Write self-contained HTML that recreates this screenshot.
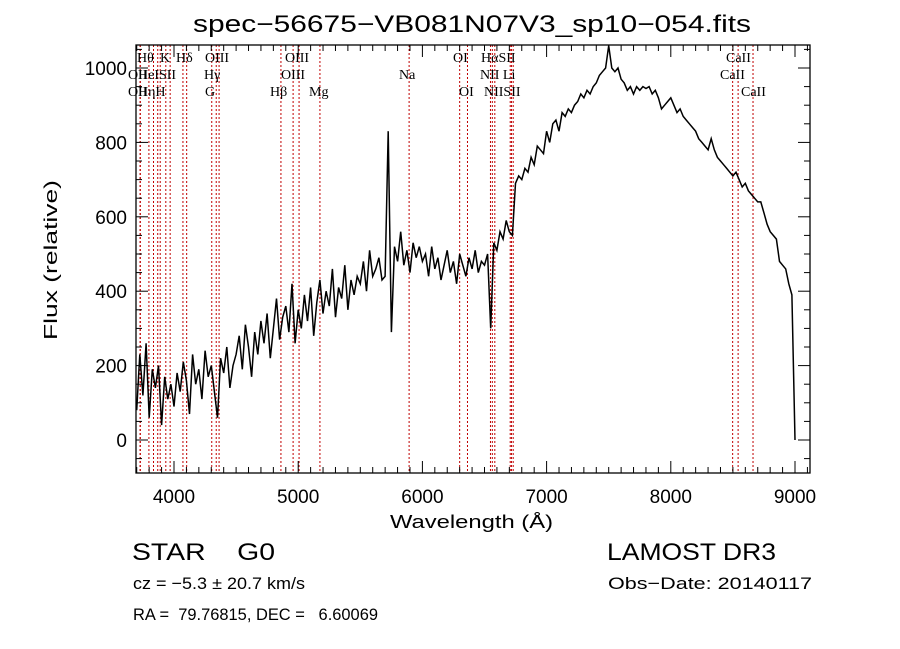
<!DOCTYPE html>
<html><head><meta charset="utf-8"><style>
html,body{margin:0;padding:0;background:#fff;width:900px;height:649px;overflow:hidden}
svg{display:block}
text{font-family:"Liberation Sans",sans-serif;fill:#000;white-space:pre}
.ser{font-family:"Liberation Serif",serif}
</style></head><body>
<svg id="chart" width="900" height="649" viewBox="0 0 900 649" xmlns="http://www.w3.org/2000/svg" xml:space="preserve">
<text x="193" y="32" font-size="24" textLength="558" lengthAdjust="spacingAndGlyphs">spec−56675−VB081N07V3_sp10−054.fits</text>
<text x="390" y="528" font-size="18" textLength="163" lengthAdjust="spacingAndGlyphs">Wavelength (Å)</text>
<text transform="translate(57,340) rotate(-90)" font-size="18" textLength="160" lengthAdjust="spacingAndGlyphs">Flux (relative)</text>
<text x="132" y="560" font-size="24" textLength="143" lengthAdjust="spacingAndGlyphs">STAR    G0</text>
<text x="607" y="560" font-size="24" textLength="169" lengthAdjust="spacingAndGlyphs">LAMOST DR3</text>
<text x="133" y="589" font-size="17" textLength="172" lengthAdjust="spacingAndGlyphs">cz = −5.3 ± 20.7 km/s</text>
<text x="608" y="589" font-size="17" textLength="204" lengthAdjust="spacingAndGlyphs">Obs−Date: 20140117</text>
<text x="133" y="620" font-size="17" textLength="245" lengthAdjust="spacingAndGlyphs">RA =  79.76815, DEC =   6.60069</text>
<g id="lines"></g>
<g id="spec"></g>
<g id="axes"></g>
</svg>
<script>
const waveStart = 3700;
const waveStep = 25;
const flux = [80,230,120,260,60,190,140,200,40,170,110,150,
90,180,130,210,160,70,230,150,190,110,240,170,200,130,60,220,180,250,140,200,
230,280,190,310,250,170,290,230,320,260,340,220,300,380,270,330,360,290,420,260,
350,300,390,320,410,280,370,430,340,400,360,460,330,410,380,470,350,430,390,440,
420,480,400,510,440,460,490,430,440,830,
290,520,480,560,470,510,450,530,490,520,
480,500,440,520,460,490,430,470,510,450,480,420,500,470,440,490,460,510,450,480,
470,500,300,530,510,560,540,590,560,
550,690,710,700,730,720,760,740,790,780,770,830,800,850,860,830,880,870,890,880,900,910,930,920,940,930,950,960,980,990,1000,1060,1000,990,1000,970,960,940,950,930,950,940,950,945,950,930,940,920,890,900,910,920,900,880,890,870,860,850,840,830,810,800,790,780,810,780,760,750,740,730,720,710,720,700,680,690,670,660,650,640,640,610,580,560,550,540,480,470,460,420,390,0];
const lineWaves = [3727,3729,3798,3835,3869,3889,3934,3969,4072,4102,4304,4340,4363,4861,4959,5007,5175,5893,6300,6363,6548,6563,6583,6707,6717,6731,8498,8542,8662];
const labelText = ["Hθ","K","Hδ","OIII","OIII","OI","HαSII","CaII","OII","HeISII","Hγ","OIII","Na","NII Li","CaII","OII","HηH","G","Hβ","Mg","OI","NIISII","CaII"];
const labelX = [137,160,176,205,285,453,481,726,128,138,204,281,399,480,720,128,138,205,270,309,459,484,741];
const labelRow = [0,0,0,0,0,0,0,0,1,1,1,1,1,1,1,2,2,2,2,2,2,2,2];
const xTicks = [4000,5000,6000,7000,8000,9000];
const yTicks = [0,200,400,600,800,1000];

const NS="http://www.w3.org/2000/svg";
const L=136,R=810,T=45,B=473;
const xs=w=>174+(w-4000)*0.1242;
const ys=f=>440-f*0.372;
function mk(tag,attrs,parent){const e=document.createElementNS(NS,tag);for(const k in attrs)e.setAttribute(k,attrs[k]);parent.appendChild(e);return e;}

const gl=document.getElementById('lines');
lineWaves.forEach(w=>{
  const l=mk('line',{x1:xs(w),x2:xs(w),y1:T,y2:B,stroke:'#c00000','stroke-width':1,'stroke-dasharray':'2,2'},gl);
  
  
});
labelText.forEach((t,i)=>{
  const e=mk('text',{x:labelX[i],y:62+labelRow[i]*17,'font-size':14,'class':'ser'},gl);
  e.textContent=t;
  
  
});

const gs=document.getElementById('spec');
let d='';
flux.forEach((f,i)=>{const w=waveStart+i*waveStep;let y=Math.max(T,Math.min(B,ys(f)));d+=(i?'L':'M')+xs(w).toFixed(1)+','+y.toFixed(1);});
const p=mk('path',{d:d,fill:'none',stroke:'#000','stroke-width':1.5},gs);



const ga=document.getElementById('axes');
const fr=mk('rect',{x:L,y:T,width:R-L,height:B-T,fill:'none',stroke:'#000','stroke-width':1.3},ga);


for(let w=3700;w<=9100;w+=100){
  const x=xs(w);if(x<L||x>R)continue;
  const len=(w%1000===0)?12:6;
  mk('line',{x1:x,x2:x,y1:B,y2:B-len,stroke:'#000'},ga);
  mk('line',{x1:x,x2:x,y1:T,y2:T+len,stroke:'#000'},ga);
}
for(let f=-50;f<=1050;f+=50){
  const y=ys(f);if(y<T||y>B)continue;
  const len=(f%200===0)?12:6;
  mk('line',{x1:L,x2:L+len,y1:y,y2:y,stroke:'#000'},ga);
  mk('line',{x1:R,x2:R-len,y1:y,y2:y,stroke:'#000'},ga);
}
xTicks.forEach(v=>{
  const t=mk('text',{x:xs(v),y:503,'font-size':19,'text-anchor':'middle'},ga);
  t.textContent=v;
  
  
});
yTicks.forEach(v=>{
  const t=mk('text',{x:127,y:ys(v)+7,'font-size':19,'text-anchor':'end'},ga);
  t.textContent=v;
  
  
});
</script>
</body></html>
